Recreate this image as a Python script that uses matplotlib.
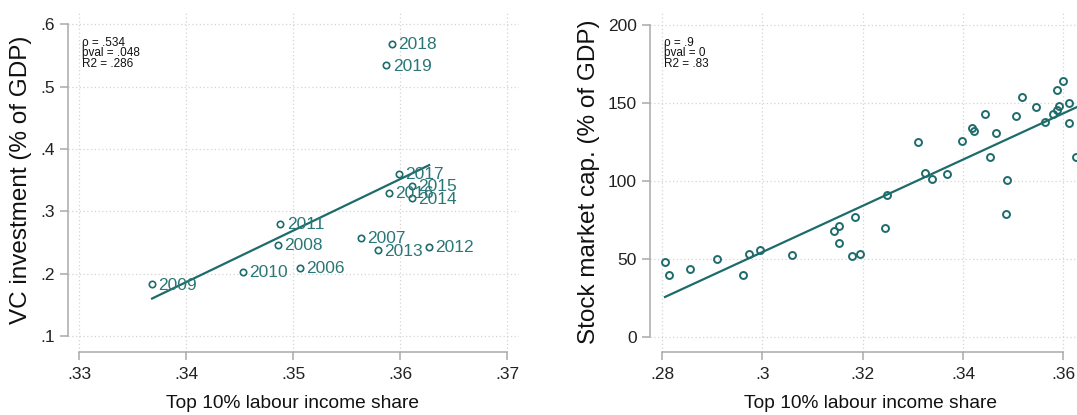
import numpy as np
import matplotlib
matplotlib.use("Agg")
import matplotlib.pyplot as plt

# ---------------- data ----------------
years = [2006, 2007, 2008, 2009, 2010, 2011, 2012, 2013, 2014, 2015, 2016, 2017, 2018, 2019]
vc_top10 = [.3506, .3563, .3486, .3368, .3453, .3488, .3627, .3579, .3611, .3611, .3589, .3599, .3592, .3587]
vc_invest = [.2095, .2577, .2455, .1829, .2022, .2801, .2432, .2374, .3208, .3411, .3298, .3598, .5688, .5341]

sm_top10 = [.2806, .28146, .28552, .2909, .29608, .2974, .29947, .30591, .31428, .31534,
            .31528, .31847, .31787, .31947, .32451, .32491, .33248, .33382, .33109, .33681,
            .33974, .34179, .34219, .34432, .34657, .34532, .34877, .34857, .35056, .35182,
            .35461, .35628, .35787, .35873, .35919, .35867, .35993, .36112, .36112, .36258]
sm_cap = [47.7, 39.4, 43.6, 49.9, 39.6, 53.3, 55.6, 52.2, 67.6, 70.8,
          60.1, 76.8, 51.8, 53.3, 69.7, 91.1, 105.0, 101.2, 124.7, 104.2,
          125.8, 133.9, 132.2, 142.9, 130.5, 115.1, 100.5, 78.7, 141.8, 153.6,
          147.6, 137.8, 142.7, 145.3, 147.8, 158.5, 163.9, 149.8, 137.1, 115.1]

left_xticks = [.33, .34, .35, .36, .37]
left_xticklabels = [".33", ".34", ".35", ".36", ".37"]
left_yticks = [.1, .2, .3, .4, .5, .6]
left_yticklabels = [".1", ".2", ".3", ".4", ".5", ".6"]
right_xticks = [.28, .30, .32, .34, .36]
right_xticklabels = [".28", ".3", ".32", ".34", ".36"]
right_yticks = [0, 50, 100, 150, 200]
right_yticklabels = ["0", "50", "100", "150", "200"]

left_stats = ["\u03c1 = .534", "pval = .048", "R2 = .286"]
right_stats = ["\u03c1 = .9", "pval = 0", "R2 = .83"]

xtitle = "Top 10% labour income share"
left_ytitle = "VC investment (% of GDP)"
right_ytitle = "Stock market cap. (% of GDP)"

# ---------------- style ----------------
W, H = 1077, 415
TEAL = "#1d6b6b"
LABEL_TEAL = "#2b7777"
AXIS_GREY = "#a9a9a9"
GRID_GREY = "#d4d4d4"
FONT = ["Liberation Sans", "DejaVu Sans"]

plt.rcParams["font.family"] = FONT

fig = plt.figure(figsize=(W / 100, H / 100), dpi=100)
fig.patch.set_facecolor("white")


def px_rect(x0, x1, y0, y1):
    return [x0 / W, 1 - y1 / H, (x1 - x0) / W, (y1 - y0) / H]


def style_axes(ax, xticks, xlabels, yticks, ylabels, xb, yb):
    for s in ("top", "right"):
        ax.spines[s].set_visible(False)
    for s in ("left", "bottom"):
        ax.spines[s].set_color(AXIS_GREY)
        ax.spines[s].set_linewidth(1.1)
    ax.spines["left"].set_bounds(*yb)
    ax.spines["bottom"].set_bounds(*xb)
    ax.set_xticks(xticks)
    ax.set_xticklabels(xlabels)
    ax.set_yticks(yticks)
    ax.set_yticklabels(ylabels)
    ax.tick_params(axis="both", colors=AXIS_GREY, width=1.1, length=5.5,
                   labelcolor="#222222", labelsize=12.5)
    ax.tick_params(axis="x", pad=5)
    ax.tick_params(axis="y", pad=4)
    ax.grid(True, color=GRID_GREY, linestyle=(0, (1, 2)), linewidth=0.9)
    ax.set_axisbelow(True)


# ---------------- left panel ----------------
ax1 = fig.add_axes(px_rect(67.7, 519, 12.3, 352.3))
ax1.set_xlim(.328916, .371093)
ax1.set_ylim(.07386, .61925)
style_axes(ax1, left_xticks, left_xticklabels, left_yticks, left_yticklabels,
           (.33, .37), (.1, .6))

x1 = np.array(vc_top10)
y1 = np.array(vc_invest)
b1, a1 = np.polyfit(x1, y1, 1)
xx1 = np.array([x1.min(), x1.max()])
ax1.plot(xx1, a1 + b1 * xx1, color=TEAL, lw=1.6, zorder=3)
ax1.plot(x1, y1, linestyle="none", marker="o", markersize=4.6,
         markerfacecolor="none", markeredgecolor=TEAL, markeredgewidth=1.2, zorder=4)
for yr, xv, yv in zip(years, x1, y1):
    ax1.annotate(str(yr), (xv, yv), xytext=(4.5, -0.5), textcoords="offset points",
                 ha="left", va="center", fontsize=12.5, color=LABEL_TEAL, zorder=5)

# ---------------- right panel ----------------
ax2 = fig.add_axes(px_rect(650, 1094, 12.3, 352.3))
ax2.set_xlim(.277608, .36611)
ax2.set_ylim(-10.01, 208.15)
style_axes(ax2, right_xticks, right_xticklabels, right_yticks, right_yticklabels,
           (.28, .36), (0, 200))

x2 = np.array(sm_top10)
y2 = np.array(sm_cap)
b2, a2 = np.polyfit(x2, y2, 1)
xx2 = np.array([x2.min(), x2.max() + 0.01])
ax2.plot(xx2, a2 + b2 * xx2, color=TEAL, lw=1.6, zorder=3)
ax2.plot(x2, y2, linestyle="none", marker="o", markersize=5.0,
         markerfacecolor="none", markeredgecolor=TEAL, markeredgewidth=1.4, zorder=4)

# ---------------- texts ----------------
for i, s in enumerate(left_stats):
    fig.text(82 / W, 1 - (46 + 10.3 * i) / H, s, fontsize=8.5,
             color="#111111", ha="left", va="baseline")
for i, s in enumerate(right_stats):
    fig.text(664 / W, 1 - (46 + 10.3 * i) / H, s, fontsize=8.5,
             color="#111111", ha="left", va="baseline")

fig.text(21 / W, 1 - 180 / H, left_ytitle, rotation=90, fontsize=17.5,
         color="#111111", ha="center", va="center")
fig.text(589 / W, 1 - 182 / H, right_ytitle, rotation=90, fontsize=17.5,
         color="#111111", ha="center", va="center")
fig.text(293 / W, 1 - 403 / H, xtitle, fontsize=13.8, color="#111111",
         ha="center", va="center")
fig.text(871 / W, 1 - 403 / H, xtitle, fontsize=13.8, color="#111111",
         ha="center", va="center")

fig.savefig("out.png", dpi=100, facecolor="white")
